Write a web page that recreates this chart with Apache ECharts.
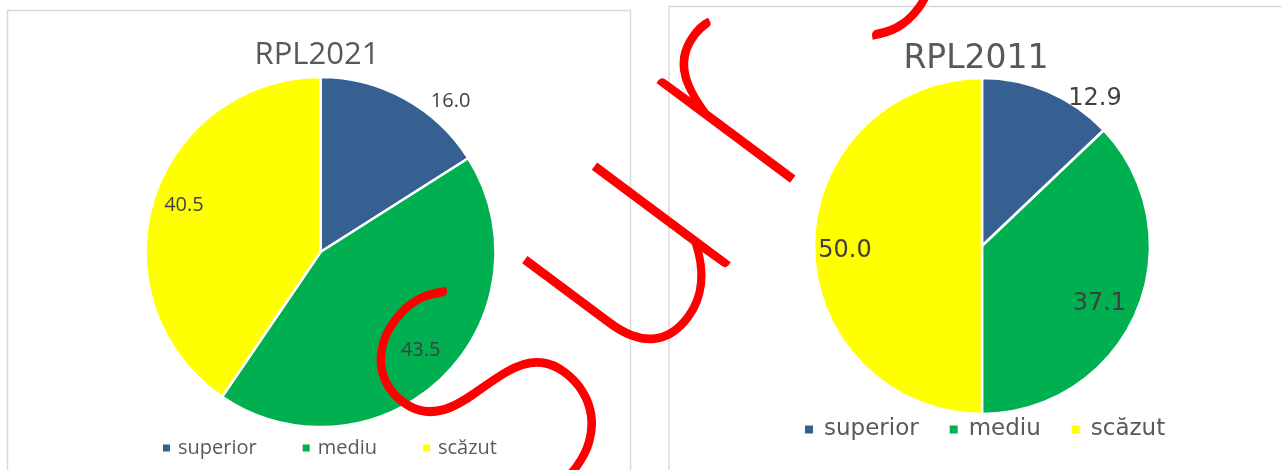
<!DOCTYPE html>
<html>
<head>
<meta charset="utf-8">
<script src="https://cdn.jsdelivr.net/npm/echarts@6/dist/echarts.min.js"></script>
<style>
  html, body { margin: 0; padding: 0; background: #ffffff; }
  #chart { width: 1282px; height: 470px; }
</style>
</head>
<body>
<div id="chart"></div>
<script>
// ---- data ----
const categories = ['superior', 'mediu', 'scăzut'];
const values2021 = [16.0, 43.5, 40.5];
const values2011 = [12.9, 37.1, 50.0];
const titles = ['RPL2021', 'RPL2011'];
const watermark = 'Sursa';

// ---- styles ----
const colors = ['#376092', '#00B050', '#FFFF00'];
const leftFont = 'Open Sans';
const rightFont = 'DejaVu Sans';

function mainPie(values, center, radius, fontFamily, fontSize, len2, nudge) {
  return {
    type: 'pie',
    center: center,
    radius: radius,
    startAngle: 90,
    clockwise: true,
    avoidLabelOverlap: false,
    emphasis: { disabled: true },
    itemStyle: { borderColor: '#ffffff', borderWidth: 2.5 },
    labelLine: { show: false, length: 0, length2: len2 },
    label: {
      show: true,
      position: 'outside',
      alignTo: 'none',
      formatter: p => p.value.toFixed(1),
      color: '#404040',
      fontFamily: fontFamily,
      fontSize: fontSize,
      offset: nudge
    },
    data: categories.map((c, i) => ({
      name: c,
      value: values[i],
      itemStyle: { color: colors[i] },
      label: { show: i === 0 }
    }))
  };
}

// thin transparent ring used only to place one inside label at radius r
function labelRing(values, center, r, idx, fontFamily, fontSize, nudge) {
  return {
    type: 'pie',
    center: center,
    radius: [r - 1, r + 1],
    startAngle: 90,
    clockwise: true,
    silent: true,
    emphasis: { disabled: true },
    itemStyle: { color: 'rgba(0,0,0,0)', borderWidth: 0 },
    labelLine: { show: false },
    label: {
      show: true,
      position: 'inside',
      formatter: p => p.value.toFixed(1),
      color: '#404040',
      fontFamily: fontFamily,
      fontSize: fontSize,
      offset: nudge
    },
    data: categories.map((c, i) => ({
      name: c,
      value: values[i],
      label: { show: i === idx }
    }))
  };
}

const cL = [320.5, 252], rL = 175;
const cR = [982, 246], rR = 168;

const option = {
  backgroundColor: '#ffffff',
  animation: false,
  legend: [
    {
      data: categories, left: 161, top: 438, padding: 0, orient: 'horizontal',
      icon: 'rect', itemWidth: 9, itemHeight: 9, itemGap: 44,
      textStyle: { color: '#595959', fontFamily: leftFont, fontSize: 20, padding: [0, 0, 0, 2] }
    },
    {
      data: categories, left: 803, top: 418, padding: 0, orient: 'horizontal',
      icon: 'rect', itemWidth: 10, itemHeight: 10, itemGap: 29,
      textStyle: { color: '#595959', fontFamily: rightFont, fontSize: 23, padding: [0, 0, 0, 5] }
    }
  ],
  series: [
    mainPie(values2021, cL, rL, leftFont, 20, 20, [1, 3]),
    mainPie(values2011, cR, rR, rightFont, 24, 15, [0, 7]),
    labelRing(values2021, cL, 141, 1, leftFont, 20, [0, -5]),
    labelRing(values2021, cL, 142, 2, leftFont, 20, [2, -4]),
    labelRing(values2011, cR, 128, 1, rightFont, 24, [-3, 6]),
    labelRing(values2011, cR, 137, 2, rightFont, 24, [3, 5])
  ],
  graphic: [
    { type: 'rect', z: -10, shape: { x: 7.5, y: 10.5, width: 623, height: 480 },
      style: { fill: 'none', stroke: '#d9d9d9', lineWidth: 1.5 } },
    { type: 'rect', z: -10, shape: { x: 669, y: 6.5, width: 700, height: 500 },
      style: { fill: 'none', stroke: '#d9d9d9', lineWidth: 1.5 } },
    { type: 'text', x: 317, y: 55, z: 10,
      style: { text: titles[0], fill: '#595959', fontFamily: leftFont, fontSize: 31, align: 'center', verticalAlign: 'middle' } },
    { type: 'text', x: 976, y: 59, z: 10,
      style: { text: titles[1], fill: '#595959', fontFamily: rightFont, fontSize: 33, align: 'center', verticalAlign: 'middle' } },
    { type: 'text', x: 720, y: 94.5, rotation: 0.93, z: 100, silent: true,
      style: {
        text: watermark.split('').map(ch => '{w|' + ch + '}').join(''),
        fill: '#FF0000', fontFamily: 'Lato', fontWeight: 100, fontSize: 330,
        align: 'center', verticalAlign: 'middle',
        rich: {
          w: { width: 190, align: 'center', fill: '#FF0000', stroke: '#FF0000', lineWidth: 5,
               fontFamily: 'Lato', fontWeight: 100, fontSize: 330 }
        }
      } }
  ]
};

const chart = echarts.init(document.getElementById('chart'), null, { renderer: 'canvas' });
chart.setOption(option);
</script>
</body>
</html>
